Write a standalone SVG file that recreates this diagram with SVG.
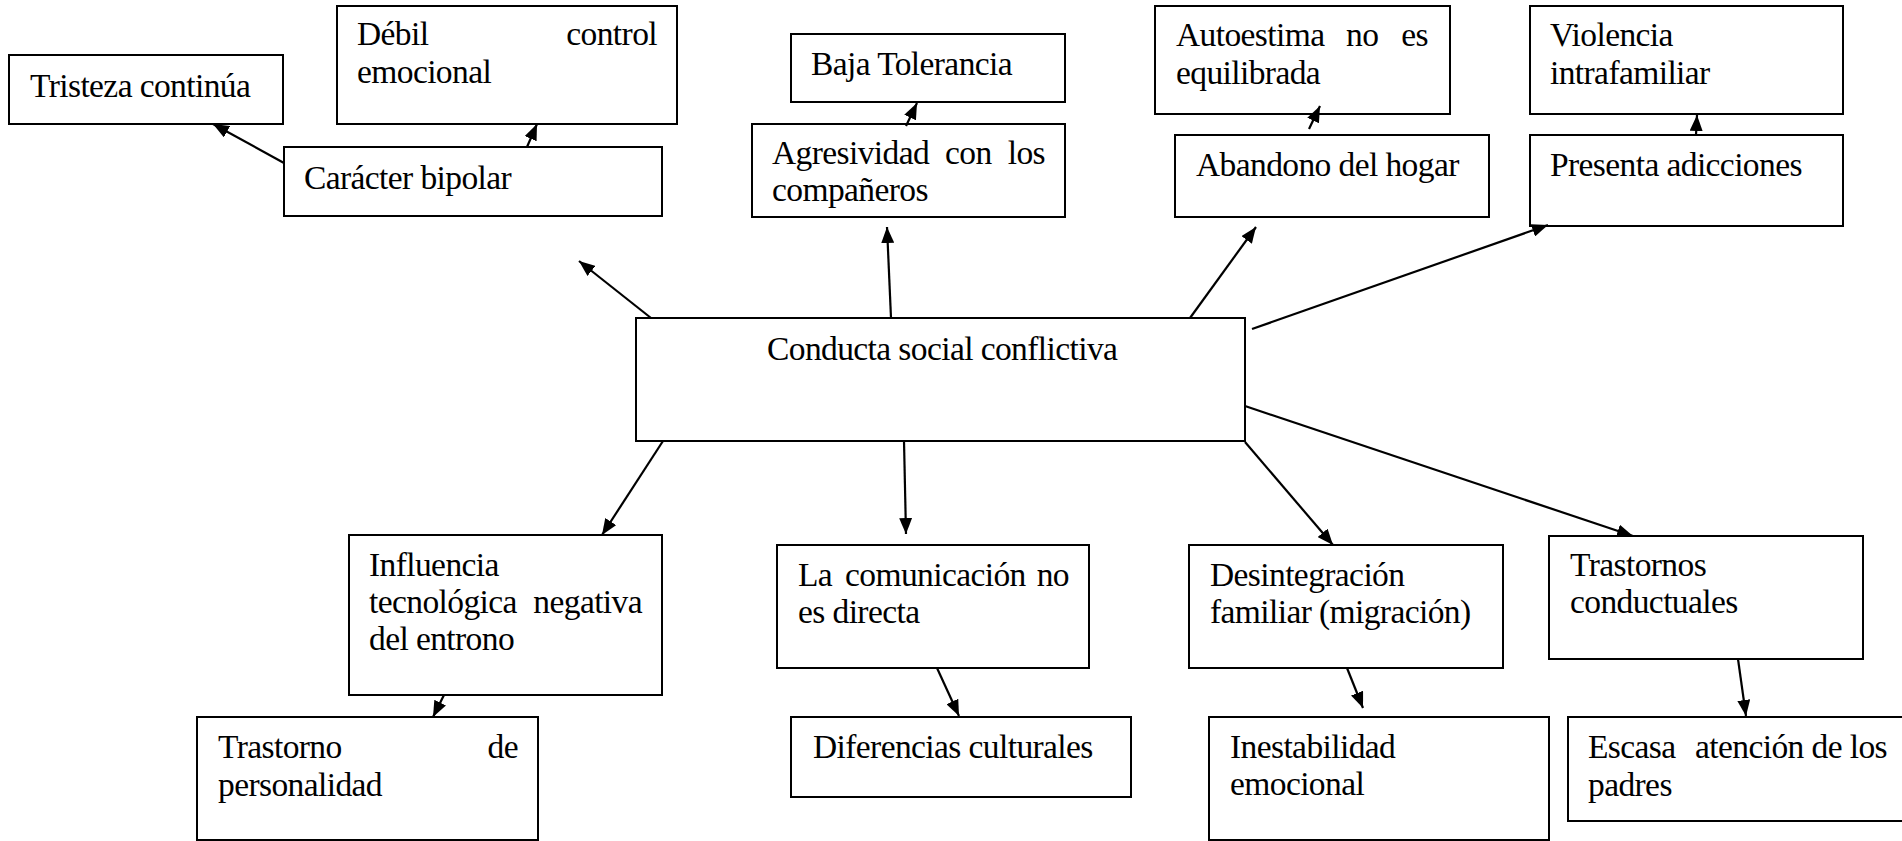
<svg xmlns="http://www.w3.org/2000/svg" width="1902" height="841" viewBox="0 0 1902 841">
<style>
  .box { fill: #ffffff; stroke: #000000; stroke-width: 2; }
  .t { font-family: "Liberation Serif", "Times New Roman", serif; font-size: 33.5px; letter-spacing: -0.6px; fill: #000000; }
  .e { text-anchor: end; }
  .c line { stroke: #000000; stroke-width: 2.2; marker-end: url(#ah); }
</style>
<defs>
  <marker id="ah" viewBox="0 0 16 13" refX="16" refY="6.5" markerWidth="16" markerHeight="13" markerUnits="userSpaceOnUse" orient="auto">
    <path d="M0,0 L16,6.5 L0,13 z" fill="#000000"/>
  </marker>
</defs>
<rect width="1902" height="841" fill="#ffffff"/>

<g id="n-tristeza">
  <rect class="box" x="9" y="55" width="274" height="69"/>
  <text class="t" x="30" y="97">Tristeza continúa</text>
</g>
<g id="n-debil">
  <rect class="box" x="337" y="6" width="340" height="118"/>
  <text class="t" x="357" y="45">Débil</text>
  <text class="t e" x="657" y="45">control</text>
  <text class="t" x="357" y="83">emocional</text>
</g>
<g id="n-caracter">
  <rect class="box" x="284" y="147" width="378" height="69"/>
  <text class="t" x="304" y="189">Carácter bipolar</text>
</g>
<g id="n-baja">
  <rect class="box" x="791" y="34" width="274" height="68"/>
  <text class="t" x="811" y="75">Baja Tolerancia</text>
</g>
<g id="n-agresividad">
  <rect class="box" x="752" y="124" width="313" height="93"/>
  <text class="t" x="772" y="164">Agresividad</text>
  <text class="t" x="945" y="164">con</text>
  <text class="t e" x="1045" y="164">los</text>
  <text class="t" x="772" y="201">compañeros</text>
</g>
<g id="n-autoestima">
  <rect class="box" x="1155" y="6" width="295" height="108"/>
  <text class="t" x="1176" y="46">Autoestima</text>
  <text class="t" x="1346" y="46">no</text>
  <text class="t e" x="1428" y="46">es</text>
  <text class="t" x="1176" y="84">equilibrada</text>
</g>
<g id="n-abandono">
  <rect class="box" x="1175" y="135" width="314" height="82"/>
  <text class="t" x="1196" y="176">Abandono del hogar</text>
</g>
<g id="n-violencia">
  <rect class="box" x="1530" y="6" width="313" height="108"/>
  <text class="t" x="1550" y="46">Violencia</text>
  <text class="t" x="1550" y="84">intrafamiliar</text>
</g>
<g id="n-presenta">
  <rect class="box" x="1530" y="135" width="313" height="91"/>
  <text class="t" x="1550" y="176">Presenta adicciones</text>
</g>
<g id="n-centro">
  <rect class="box" x="636" y="318" width="609" height="123"/>
  <text class="t" x="767" y="360">Conducta social conflictiva</text>
</g>
<g id="n-influencia">
  <rect class="box" x="349" y="535" width="313" height="160"/>
  <text class="t" x="369" y="576">Influencia</text>
  <text class="t" x="369" y="613">tecnológica</text>
  <text class="t e" x="642" y="613">negativa</text>
  <text class="t" x="369" y="650">del entrono</text>
</g>
<g id="n-trastorno">
  <rect class="box" x="197" y="717" width="341" height="123"/>
  <text class="t" x="218" y="758">Trastorno</text>
  <text class="t e" x="518" y="758">de</text>
  <text class="t" x="218" y="796">personalidad</text>
</g>
<g id="n-comunicacion">
  <rect class="box" x="777" y="545" width="312" height="123"/>
  <text class="t" x="798" y="586">La</text>
  <text class="t" x="845" y="586">comunicación</text>
  <text class="t e" x="1069" y="586">no</text>
  <text class="t" x="798" y="623">es directa</text>
</g>
<g id="n-diferencias">
  <rect class="box" x="791" y="717" width="340" height="80"/>
  <text class="t" x="813" y="758">Diferencias culturales</text>
</g>
<g id="n-desintegracion">
  <rect class="box" x="1189" y="545" width="314" height="123"/>
  <text class="t" x="1210" y="586">Desintegración</text>
  <text class="t" x="1210" y="623">familiar (migración)</text>
</g>
<g id="n-trastornos">
  <rect class="box" x="1549" y="536" width="314" height="123"/>
  <text class="t" x="1570" y="576">Trastornos</text>
  <text class="t" x="1570" y="613">conductuales</text>
</g>
<g id="n-inestabilidad">
  <rect class="box" x="1209" y="717" width="340" height="123"/>
  <text class="t" x="1230" y="758">Inestabilidad</text>
  <text class="t" x="1230" y="795">emocional</text>
</g>
<g id="n-escasa">
  <rect class="box" x="1568" y="717" width="345" height="104"/>
  <text class="t" x="1588" y="758">Escasa</text>
  <text class="t e" x="1887" y="758">atención de los</text>
  <text class="t" x="1588" y="796">padres</text>
</g>

<g id="connectors" class="c">
  <line x1="284" y1="163" x2="213" y2="124"/>
  <line x1="527" y1="147" x2="537" y2="124"/>
  <line x1="651" y1="318" x2="579" y2="261"/>
  <line x1="891" y1="318" x2="887" y2="227"/>
  <line x1="906" y1="126" x2="917" y2="103"/>
  <line x1="1190" y1="318" x2="1256" y2="227"/>
  <line x1="1309" y1="129" x2="1320" y2="106"/>
  <line x1="1252" y1="329" x2="1548" y2="225"/>
  <line x1="1696" y1="135" x2="1697" y2="115"/>
  <line x1="663" y1="441" x2="602" y2="535"/>
  <line x1="904" y1="441" x2="906" y2="534"/>
  <line x1="1245" y1="442" x2="1333" y2="545"/>
  <line x1="1245" y1="406" x2="1633" y2="536"/>
  <line x1="444" y1="695" x2="433" y2="717"/>
  <line x1="937" y1="668" x2="959" y2="716"/>
  <line x1="1347" y1="668" x2="1363" y2="708"/>
  <line x1="1738" y1="659" x2="1746" y2="716"/>
</g>
</svg>
